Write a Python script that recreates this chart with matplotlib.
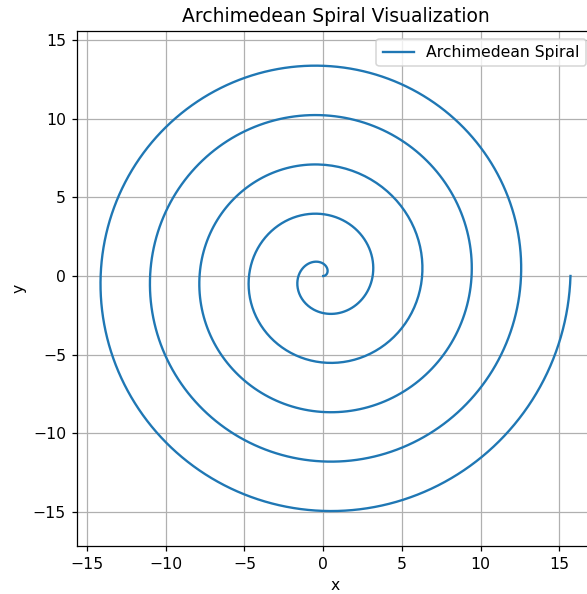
import numpy as np
import matplotlib.pyplot as plt

# spiral parameters, r = a + b * theta
spiral_a = 0.0
spiral_b = 0.5
turns = 5
n_points = 1000

theta = np.linspace(0, 2 * np.pi * turns, n_points)
r = spiral_a + spiral_b * theta
x = r * np.cos(theta)
y = r * np.sin(theta)

# reference looks rendered at a slightly higher dpi than 100
dpi = 112.5
fig = plt.figure(figsize=(587 / dpi, 594 / dpi), dpi=dpi)
ax = fig.add_axes([0.1312, 0.0813, 0.8807, 0.8665])

ax.plot(x, y, label='Archimedean Spiral')
ax.set_aspect('equal', adjustable='datalim')
ax.set_title('Archimedean Spiral Visualization')
ax.set_xlabel('x')
ax.set_ylabel('y')
ax.legend(loc='upper right')
ax.grid(True)

fig.savefig('out.png', dpi=dpi)
